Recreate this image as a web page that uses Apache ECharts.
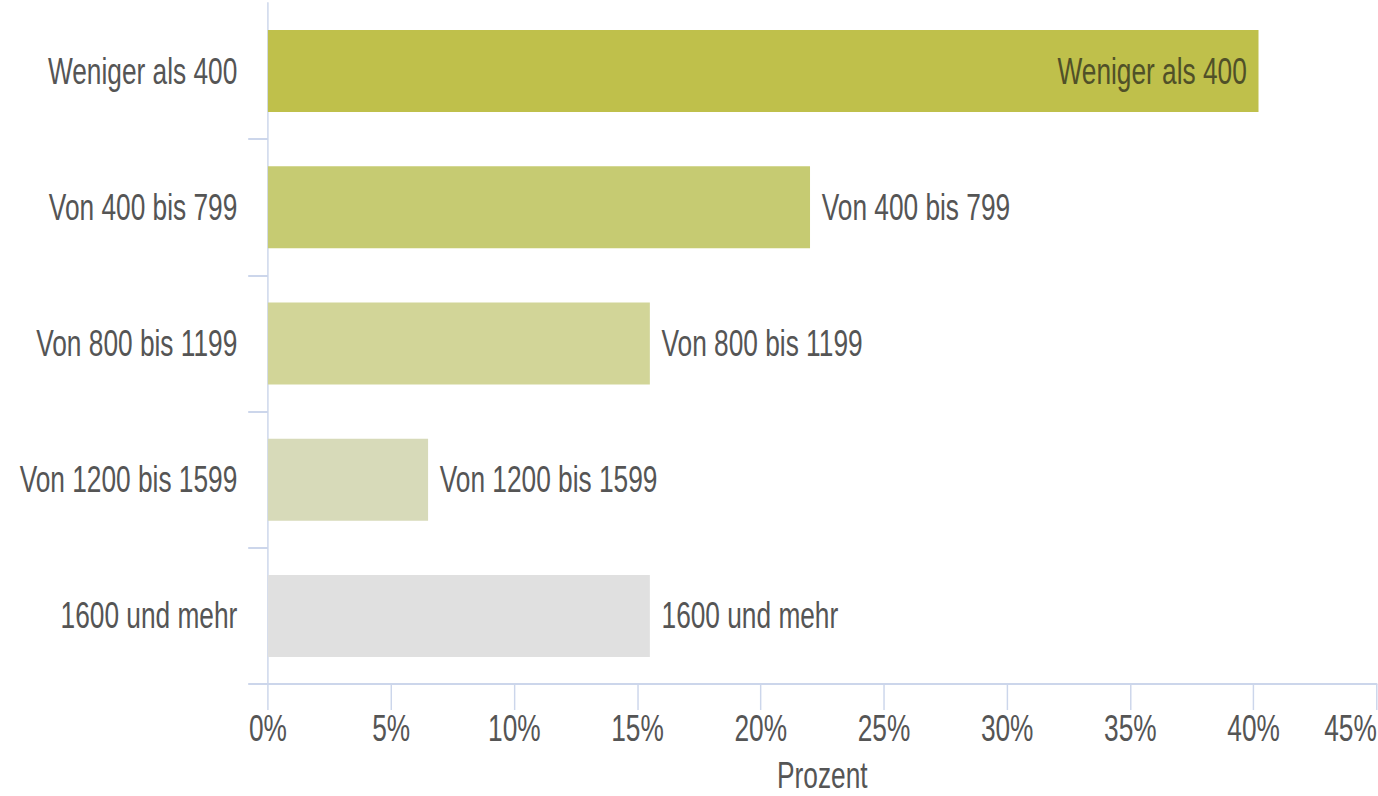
<!DOCTYPE html>
<html>
<head>
<meta charset="utf-8">
<script src="https://cdn.jsdelivr.net/npm/echarts@6/dist/echarts.min.js"></script>
<style>
  html, body { margin: 0; padding: 0; background: #fff; overflow: hidden; }
  #wrap { width: 1378px; height: 796px; overflow: hidden; }
  /* die Schrift im Original ist schmal, daher horizontal gestaucht */
  #chart { width: 1888px; height: 796px; transform: scaleX(0.73); transform-origin: 0 0; }
</style>
</head>
<body>
<div id="wrap"><div id="chart"></div></div>
<script>
// Daten
const categories = ['Weniger als 400', 'Von 400 bis 799', 'Von 800 bis 1199', 'Von 1200 bis 1599', '1600 und mehr'];
const values = [40.2, 22.0, 15.5, 6.5, 15.5];
const xTicks = [0, 5, 10, 15, 20, 25, 30, 35, 40, 45];

// Farben
const barColors = ['#bfc04b', '#c6cb72', '#d2d598', '#d7dab9', '#e0e0e0'];

const chart = echarts.init(document.getElementById('chart'), null, {renderer: 'svg'});
const textFont = 'Liberation Sans, Arial, sans-serif';

const option = {
  animation: false,
  grid: {
    left: 367,
    right: 2,
    top: 3,
    bottom: 112,
    containLabel: false,
    outerBoundsMode: 'none'
  },
  xAxis: {
    type: 'value',
    min: xTicks[0],
    max: xTicks[xTicks.length - 1],
    interval: xTicks[1] - xTicks[0],
    name: 'Prozent',
    nameLocation: 'middle',
    nameGap: 73,
    nameTextStyle: {color: '#555', fontSize: 36, lineHeight: 36, fontFamily: textFont},
    axisLine: {show: true, lineStyle: {color: '#ccd6eb', width: 2}},
    axisTick: {show: true, length: 26, lineStyle: {color: '#ccd6eb', width: 2}},
    axisLabel: {
      formatter: '{value}%',
      color: '#555',
      fontSize: 36,
      fontFamily: textFont,
      margin: 26,
      alignMaxLabel: 'right'
    },
    splitLine: {show: false}
  },
  yAxis: {
    type: 'category',
    inverse: true,
    data: categories,
    axisLine: {show: true, lineStyle: {color: '#ccd6eb', width: 2}},
    axisTick: {
      show: true,
      length: 27,
      interval: function (index) { return index > 0; },
      lineStyle: {color: '#ccd6eb', width: 2}
    },
    axisLabel: {
      color: '#555',
      fontSize: 36,
      fontFamily: textFont,
      margin: 42
    }
  },
  series: [{
    type: 'bar',
    barWidth: 82,
    data: values.map(function (v, i) {
      const item = {value: v, itemStyle: {color: barColors[i]}};
      // der erste Balken traegt seine Beschriftung innen
      if (i === 0) {
        item.label = {position: 'insideRight', color: '#505028'};
      }
      return item;
    }),
    label: {
      show: true,
      position: 'right',
      distance: 16,
      formatter: '{b}',
      color: '#555',
      fontSize: 36,
      fontFamily: textFont
    }
  }]
};

chart.setOption(option);
</script>
</body>
</html>
